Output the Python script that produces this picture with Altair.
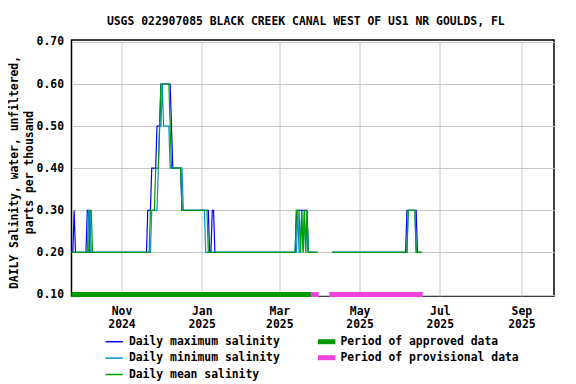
import altair as alt
import pandas as pd

# ---- values ----
START = "2024-09-24"            # day 0 of the record
SEGMENTS = [(0, 187), (198, 266)]  # day ranges with data (gap in between)

# (day, value) change points, value in parts per thousand
MAX_CHANGES = [(0, 0.2), (2, 0.3), (3, 0.2), (12, 0.3), (14, 0.2), (58, 0.3), (61, 0.4),
               (65, 0.5), (68, 0.6), (76, 0.5), (77, 0.4), (84, 0.3), (105, 0.2),
               (107, 0.3), (109, 0.2), (171, 0.3), (180, 0.2), (255, 0.3), (263, 0.2)]
MIN_CHANGES = [(0, 0.2), (13, 0.3), (15, 0.2), (61, 0.3), (66, 0.4), (67, 0.5), (69, 0.6),
               (70, 0.5), (75, 0.4), (85, 0.3), (102, 0.2), (172, 0.3), (173, 0.2),
               (175, 0.3), (176, 0.2), (177, 0.3), (178, 0.2), (179, 0.3), (180, 0.2),
               (256, 0.3), (262, 0.2)]
MEAN_CHANGES = [(0, 0.2), (14, 0.3), (16, 0.2), (60, 0.3), (64, 0.4), (67, 0.5), (68, 0.6),
                (75, 0.5), (76, 0.4), (84, 0.3), (104, 0.2), (171, 0.3), (174, 0.2),
                (175, 0.3), (176, 0.2), (177, 0.3), (178, 0.2), (179, 0.3), (180, 0.2),
                (256, 0.3), (262, 0.2)]

SERIES = ["Daily maximum salinity", "Daily minimum salinity", "Daily mean salinity"]
SERIES_COLORS = ["#0000ff", "#0090d8", "#00a000"]

PERIOD_NAMES = ["Period of approved data", "Period of provisional data"]
PERIOD_COLORS = ["#009900", "#ee44dd"]
PERIOD_LABEL = ["Period of approved data", "Period of provisional data", "Period of provisional data"]
PERIOD_START = ["2024-09-24", "2025-03-25", "2025-04-08"]
PERIOD_END = ["2025-03-25", "2025-03-31", "2025-06-18"]

Y_TICKS = [0.1, 0.2, 0.3, 0.4, 0.5, 0.6, 0.7]
X_TICKS = [(2024, 11), (2025, 1), (2025, 3), (2025, 5), (2025, 7), (2025, 9)]

TITLE = "USGS 022907085 BLACK CREEK CANAL WEST OF US1 NR GOULDS, FL"
Y_TITLE = ["DAILY Salinity, water, unfiltered,", "parts per thousand"]

FONT = "DejaVu Sans Mono"
FS = 11.4

# ---- build tables ----
t0 = pd.Timestamp(START)
rows = []
for name, changes in zip(SERIES, [MAX_CHANGES, MIN_CHANGES, MEAN_CHANGES]):
    for seg, (a, b) in enumerate(SEGMENTS):
        for d in range(a, b + 1):
            v = [val for day, val in changes if day <= d][-1]
            rows.append({"series": name, "seg": seg,
                         "date": (t0 + pd.Timedelta(days=d)).strftime("%Y-%m-%dT%H:%M:%S"),
                         "value": v})
df = pd.DataFrame(rows)

periods = pd.DataFrame({
    "period": PERIOD_LABEL,
    "start": [pd.Timestamp(s).strftime("%Y-%m-%dT%H:%M:%S") for s in PERIOD_START],
    "end": [pd.Timestamp(s).strftime("%Y-%m-%dT%H:%M:%S") for s in PERIOD_END],
})

xscale = alt.Scale(domain=[alt.DateTime(year=2024, month=9, date=24),
                           alt.DateTime(year=2025, month=9, date=25, hours=19)])
yscale = alt.Scale(domain=[0.0965, 0.7045], nice=False, zero=False)

xaxis = alt.Axis(values=[alt.DateTime(year=y, month=m, date=1) for y, m in X_TICKS],
                 labelExpr="[timeFormat(datum.value, '%b'), timeFormat(datum.value, '%Y')]",
                 title=None, grid=True, ticks=False, domain=False,
                 labelFont=FONT, labelFontSize=FS, labelFontWeight="bold", labelColor="black",
                 labelLineHeight=13, labelPadding=9, gridColor="#c8c8c8", gridWidth=1)
yaxis = alt.Axis(values=Y_TICKS, format=".2f", title=Y_TITLE, grid=True, ticks=False,
                 domain=False, labelFont=FONT, labelFontSize=FS, labelFontWeight="bold",
                 labelColor="black", labelPadding=8, gridColor="#c8c8c8", gridWidth=1,
                 titleFont=FONT, titleFontSize=FS, titleFontWeight="bold", titleColor="black",
                 titleLineHeight=15, titleX=-52.5, titleY=132, titleAngle=-90,
                 titleBaseline="bottom", titleAlign="center")

LINE_SYMBOL = "M-2.9,0H2.9"

color_lines = alt.Color("series:N",
                        scale=alt.Scale(domain=SERIES, range=SERIES_COLORS),
                        legend=alt.Legend(orient="none", legendX=37, legendY=296, title=None,
                                          symbolType=LINE_SYMBOL, symbolSize=36,
                                          symbolStrokeWidth=1.5, rowPadding=3.4, labelOffset=9,
                                          labelFont=FONT, labelFontSize=FS, labelLimit=400,
                                          labelFontWeight="bold", labelColor="black",
                                          direction="vertical", padding=0))

def series_layer(name):
    return alt.Chart(df).transform_filter(alt.datum.series == name).mark_line(
        strokeWidth=1.2, interpolate="linear").encode(
        x=alt.X("date:T", scale=xscale, axis=xaxis),
        y=alt.Y("value:Q", scale=yscale, axis=yaxis),
        color=color_lines,
        detail="seg:N",
    )

lines = alt.layer(*[series_layer(n) for n in SERIES])

bars = alt.Chart(periods).mark_rule(strokeWidth=5).encode(
    x=alt.X("start:T", scale=xscale, axis=xaxis),
    x2="end:T",
    y=alt.datum(0.1, axis=yaxis),
    color=alt.Color("period:N",
                    scale=alt.Scale(domain=PERIOD_NAMES, range=PERIOD_COLORS),
                    legend=alt.Legend(orient="none", legendX=249.5, legendY=296, title=None,
                                      symbolType=LINE_SYMBOL, symbolSize=36,
                                      symbolStrokeWidth=5, rowPadding=-5, labelOffset=8,
                                      labelFont=FONT, labelFontSize=FS, labelLimit=400,
                                      labelFontWeight="bold", labelColor="black",
                                      direction="vertical", padding=0)),
)

chart = alt.layer(lines, bars).resolve_scale(color="independent").properties(
    width=482.5, height=256,
    title=alt.Title(TITLE, font=FONT, fontSize=FS, fontWeight="bold", color="black",
                    anchor="middle", dx=-7, offset=8),
    autosize=alt.AutoSizeParams(type="none"),
    padding={"left": 63.5, "top": 32, "right": 14, "bottom": 88},
).configure(background="white").configure_view(stroke="black", strokeWidth=1.5)

chart.save("out.html", embed_options={"renderer": "svg", "actions": False})
